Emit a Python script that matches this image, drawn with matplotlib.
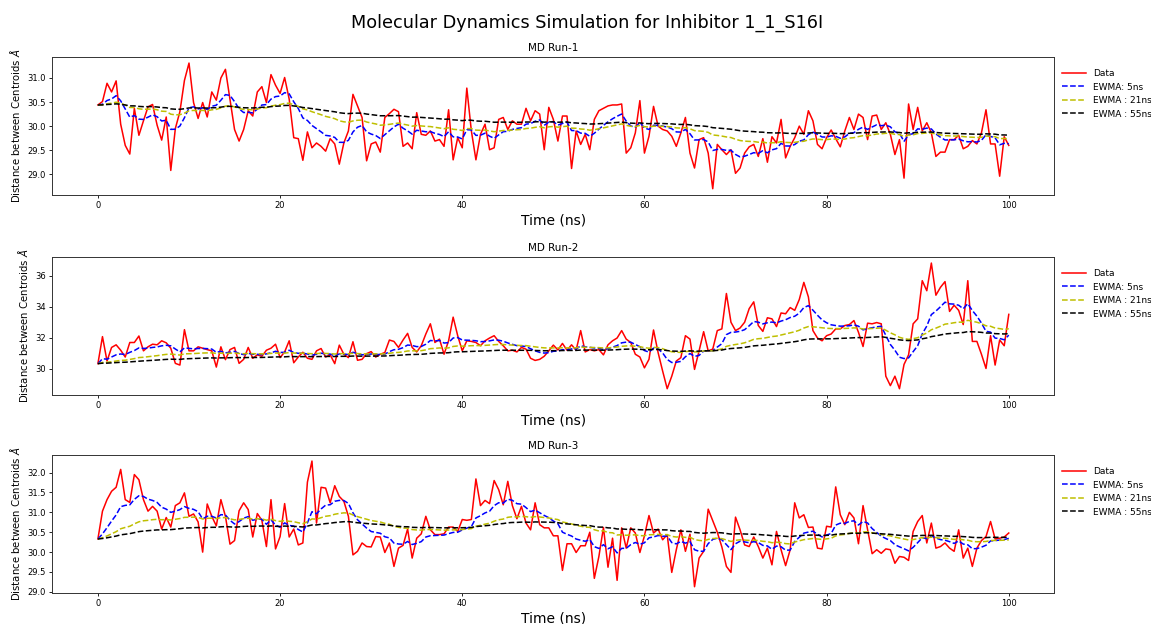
import numpy as np
import pandas as pd
import matplotlib
matplotlib.use("Agg")
from matplotlib import pyplot as plt
from matplotlib.ticker import MultipleLocator

# time axis: one frame every 0.5 ns
time_ns = np.arange(0, 100.5, 0.5)

run1 = [
    30.44, 30.51, 30.89, 30.71, 30.94, 30.04, 29.60, 29.42, 30.37, 29.81,
    30.11, 30.40, 30.45, 30.02, 29.71, 30.19, 29.08, 29.95, 30.30, 30.95,
    31.31, 30.49, 30.16, 30.49, 30.19, 30.71, 30.54, 31.00, 31.18, 30.56,
    29.93, 29.69, 29.93, 30.32, 30.21, 30.71, 30.82, 30.49, 31.07, 30.85,
    30.68, 31.01, 30.56, 29.76, 29.74, 29.29, 29.88, 29.55, 29.65, 29.58,
    29.48, 29.74, 29.63, 29.21, 29.65, 29.90, 30.66, 30.42, 30.18, 29.28,
    29.63, 29.67, 29.46, 30.18, 30.26, 30.35, 30.30, 29.58, 29.65, 29.53,
    30.28, 29.83, 29.81, 29.90, 29.69, 29.72, 29.58, 30.34, 29.30, 29.76,
    29.55, 30.79, 29.90, 29.30, 29.83, 30.04, 29.51, 29.55, 30.14, 30.18,
    29.93, 30.11, 30.04, 30.04, 30.37, 30.11, 30.32, 30.25, 29.51, 30.39,
    30.14, 29.69, 30.21, 30.21, 29.12, 29.90, 29.62, 29.83, 29.51, 30.14,
    30.32, 30.37, 30.42, 30.44, 30.44, 30.46, 29.44, 29.55, 29.86, 30.53,
    29.44, 29.79, 30.41, 30.00, 29.93, 29.90, 29.79, 29.58, 29.86, 30.18,
    29.44, 29.13, 29.72, 29.76, 29.44, 28.70, 29.62, 29.51, 29.41, 29.51,
    29.02, 29.13, 29.44, 29.57, 29.62, 29.37, 29.74, 29.25, 29.78, 29.65,
    30.14, 29.34, 29.58, 29.76, 30.00, 29.83, 30.32, 30.11, 29.62, 29.53,
    29.76, 29.92, 29.74, 29.57, 29.90, 30.18, 29.93, 30.25, 30.18, 29.72,
    30.21, 30.23, 29.93, 30.07, 29.83, 29.41, 29.72, 28.92, 30.46, 29.93,
    30.39, 29.90, 30.07, 29.86, 29.37, 29.46, 29.46, 29.72, 29.72, 29.81,
    29.53, 29.58, 29.70, 29.63, 29.86, 30.34, 29.63, 29.63, 28.96, 29.78,
    29.60,
]

run2 = [
    30.32, 32.07, 30.49, 31.37, 31.54, 31.19, 30.75, 31.69, 31.69, 32.11,
    31.15, 31.41, 31.58, 31.54, 31.80, 31.67, 31.32, 30.34, 30.23, 32.52,
    31.15, 31.15, 31.41, 31.32, 31.23, 31.15, 30.10, 31.41, 30.58, 31.23,
    31.37, 30.34, 30.60, 31.37, 30.67, 30.89, 30.80, 31.19, 31.32, 31.58,
    30.71, 31.08, 31.80, 30.38, 30.75, 31.06, 30.67, 30.60, 31.15, 31.30,
    30.75, 30.89, 30.32, 31.52, 30.93, 30.71, 31.74, 30.54, 30.60, 30.97,
    31.10, 30.75, 30.93, 31.04, 31.85, 31.76, 31.37, 31.85, 32.28, 31.37,
    31.08, 31.48, 32.24, 32.90, 31.69, 31.91, 30.93, 31.80, 33.33, 32.13,
    31.15, 31.80, 31.76, 31.69, 31.48, 31.80, 31.98, 32.13, 31.76, 31.48,
    31.15, 31.19, 31.08, 31.37, 31.26, 30.67, 30.53, 30.60, 30.80, 31.15,
    31.52, 31.21, 31.63, 31.19, 31.54, 31.19, 32.46, 31.08, 31.23, 31.15,
    31.23, 30.89, 31.54, 31.80, 31.98, 32.46, 31.91, 31.69, 30.93, 30.75,
    30.05, 30.60, 32.50, 31.04, 29.84, 28.70, 29.51, 30.49, 30.71, 32.13,
    31.91, 29.95, 31.15, 32.39, 31.15, 31.26, 32.46, 32.57, 34.86, 33.00,
    32.46, 32.63, 33.00, 33.88, 34.32, 32.79, 32.41, 33.29, 33.22, 32.72,
    33.60, 33.55, 33.95, 33.77, 34.47, 35.58, 34.64, 32.46, 31.98, 31.80,
    32.13, 32.24, 32.57, 32.57, 32.79, 32.85, 33.11, 32.35, 31.43, 32.94,
    32.90, 32.98, 32.90, 29.51, 28.90, 29.51, 28.70, 30.27, 30.89, 32.90,
    33.22, 35.69, 35.04, 36.83, 34.75, 35.26, 35.63, 33.70, 34.10, 33.77,
    32.85, 35.69, 31.76, 31.76, 30.93, 30.01, 32.13, 30.23, 31.85, 31.48,
    33.51,
]

run3 = [
    30.33, 31.03, 31.32, 31.53, 31.63, 32.08, 31.32, 31.25, 31.95, 31.82,
    31.32, 31.03, 31.15, 31.03, 30.58, 30.87, 30.63, 31.17, 31.24, 31.49,
    30.90, 30.96, 30.76, 30.00, 31.21, 30.90, 30.66, 31.32, 30.90, 30.20,
    30.29, 31.04, 31.24, 31.07, 30.38, 30.97, 30.80, 30.14, 31.32, 30.08,
    30.39, 31.22, 30.38, 30.58, 30.18, 30.23, 31.76, 32.29, 30.73, 31.63,
    31.61, 31.24, 31.67, 31.40, 31.28, 30.90, 29.93, 30.02, 30.23, 30.14,
    30.13, 30.39, 30.38, 29.99, 30.23, 29.64, 30.10, 30.17, 30.58, 29.85,
    30.35, 30.46, 30.90, 30.56, 30.44, 30.44, 30.46, 30.63, 30.63, 30.52,
    30.82, 30.80, 30.82, 31.84, 31.17, 31.30, 31.22, 31.80, 31.57, 31.19,
    31.78, 31.17, 30.84, 31.15, 30.73, 30.56, 31.24, 30.69, 30.61, 30.61,
    30.41, 30.41, 29.54, 30.21, 30.21, 29.99, 30.16, 30.16, 30.50, 29.34,
    29.89, 30.62, 29.62, 30.35, 29.29, 30.61, 30.10, 30.61, 30.48, 29.99,
    30.41, 30.92, 30.48, 30.58, 30.31, 30.44, 29.49, 30.06, 30.56, 30.02,
    30.45, 29.13, 29.85, 30.02, 31.08, 30.79, 30.50, 30.13, 29.64, 29.49,
    30.88, 30.56, 30.18, 30.14, 30.38, 30.14, 29.85, 30.10, 29.68, 30.52,
    30.06, 29.66, 30.06, 31.24, 30.86, 30.94, 30.62, 30.63, 30.10, 30.08,
    30.65, 30.63, 31.64, 30.94, 30.69, 31.00, 30.86, 30.21, 31.17, 30.56,
    29.96, 30.06, 29.97, 30.08, 30.06, 29.72, 29.89, 29.87, 29.79, 30.52,
    30.77, 30.92, 30.23, 30.73, 30.10, 30.14, 30.23, 30.10, 30.02, 30.56,
    29.85, 30.10, 29.64, 30.10, 30.29, 30.39, 30.77, 30.33, 30.35, 30.38,
    30.48,
]

runs = [run1, run2, run3]
run_titles = ["MD Run-1", "MD Run-2", "MD Run-3"]
ytick_steps = [0.5, 2, 0.5]
ewma_windows_ns = [5, 21, 55]
ewma_labels = ["EWMA: 5ns", "EWMA : 21ns", "EWMA : 55ns"]
ewma_colors = ["b", "y", "k"]
frames_per_ns = 2

fig = plt.figure(figsize=(11.51, 6.24), dpi=100)
fig.suptitle("Molecular Dynamics Simulation for Inhibitor 1_1_S16I",
             fontsize=12.7, x=0.51, y=0.978)

bottoms = [0.6875, 0.367, 0.0497]
for i, (values, title) in enumerate(zip(runs, run_titles)):
    ax = fig.add_axes([0.0455, bottoms[i], 0.8705, 0.2215])
    series = pd.Series(values, index=time_ns)
    ax.plot(time_ns, series, color="r", lw=1.1, label="Data")
    for window, label, color in zip(ewma_windows_ns, ewma_labels, ewma_colors):
        smoothed = series.ewm(span=window * frames_per_ns, adjust=False).mean()
        ax.plot(time_ns, smoothed, color=color, ls="--", lw=1.1, label=label)
    ax.set_title(title, fontsize=7.5, pad=4)
    ax.set_xlabel("Time (ns)", fontsize=10, labelpad=2)
    ax.set_ylabel(r"Distance between Centroids $\AA$", fontsize=7.3)
    ax.yaxis.set_major_locator(MultipleLocator(ytick_steps[i]))
    ax.tick_params(labelsize=6, length=2.5, width=0.6, pad=2)
    for spine in ax.spines.values():
        spine.set_linewidth(0.7)
        spine.set_color("#333333")
    ax.legend(loc="upper left", bbox_to_anchor=(1.0, 0.97), frameon=False,
              fontsize=6.5, handlelength=2.6)

plt.savefig("out.png", dpi=100)
